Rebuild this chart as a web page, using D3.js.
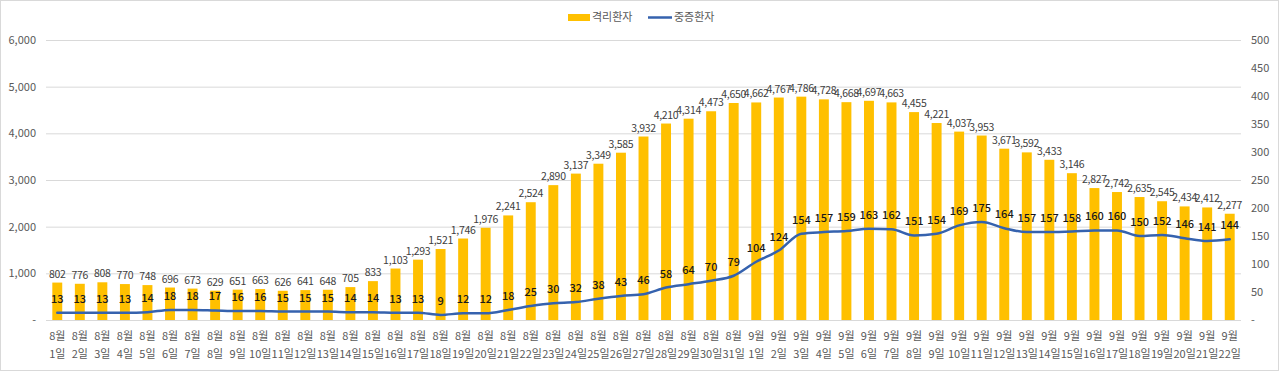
<!DOCTYPE html>
<html><head><meta charset="utf-8">
<script src="https://cdn.jsdelivr.net/npm/d3@7"></script>
<style>
body{margin:0;background:#fff;}
svg text{font-family:"Noto Sans CJK KR","Noto Sans",sans-serif;}
</style></head>
<body><svg id="c" width="1280" height="372"></svg>
<script>
const months = [8,8,8,8,8,8,8,8,8,8,8,8,8,8,8,8,8,8,8,8,8,8,8,8,8,8,8,8,8,8,8,9,9,9,9,9,9,9,9,9,9,9,9,9,9,9,9,9,9,9,9,9,9];
const days = [1,2,3,4,5,6,7,8,9,10,11,12,13,14,15,16,17,18,19,20,21,22,23,24,25,26,27,28,29,30,31,1,2,3,4,5,6,7,8,9,10,11,12,13,14,15,16,17,18,19,20,21,22];
const isolated = [802,776,808,770,748,696,673,629,651,663,626,641,648,705,833,1103,1293,1521,1746,1976,2241,2524,2890,3137,3349,3585,3932,4210,4314,4473,4650,4662,4767,4786,4728,4668,4697,4663,4455,4221,4037,3953,3671,3592,3433,3146,2827,2742,2635,2545,2434,2412,2277];
const severe = [13,13,13,13,14,18,18,17,16,16,15,15,15,14,14,13,13,9,12,12,18,25,30,32,38,43,46,58,64,70,79,104,124,154,157,159,163,162,151,154,169,175,164,157,157,158,160,160,150,152,146,141,144];
const leftTicks = [0,1000,2000,3000,4000,5000,6000];
const rightTicks = [0,50,100,150,200,250,300,350,400,450,500];
const seriesNames = ["격리환자","중증환자"];

const svg = d3.select("#c");
const L = 46, R = 1241, T = 40, B = 320;
const cats = days.map((d,i)=>i);
const x = d3.scaleBand().domain(cats).range([L,R]).paddingInner(0.56).paddingOuter(0.28);
const yL = d3.scaleLinear().domain([0,6000]).range([B,T]);
const yR = d3.scaleLinear().domain([0,500]).range([B,T]);
const fmt = d3.format(",");

svg.append("rect").attr("x",0.5).attr("y",0.5).attr("width",1278).attr("height",370).attr("fill","none").attr("stroke","#d9d9d9");

svg.append("g").selectAll("line").data(leftTicks).join("line")
  .attr("x1",L).attr("x2",R).attr("y1",d=>yL(d)+0.5).attr("y2",d=>yL(d)+0.5)
  .attr("stroke","#d9d9d9").attr("stroke-width",1);

const gl = svg.append("g").attr("transform",`translate(${L-10},0)`)
  .call(d3.axisLeft(yL).tickValues(leftTicks).tickSize(0).tickPadding(0).tickFormat(d=>d===0?"-":fmt(d)));
gl.select(".domain").remove();
gl.selectAll("text").attr("font-size",11).attr("fill","#595959").attr("font-family",'"Noto Sans CJK KR",sans-serif');

const gr = svg.append("g").attr("transform",`translate(${R+10},0)`)
  .call(d3.axisRight(yR).tickValues(rightTicks).tickSize(0).tickPadding(0).tickFormat(d=>d===0?"-":d));
gr.select(".domain").remove();
gr.selectAll("text").attr("font-size",11).attr("fill","#595959").attr("font-family",'"Noto Sans CJK KR",sans-serif');

svg.append("g").selectAll("rect").data(isolated).join("rect")
  .attr("x",(d,i)=>x(i)).attr("width",x.bandwidth())
  .attr("y",d=>yL(d)).attr("height",d=>B-yL(d)).attr("fill","#FFC000");

const line = d3.line().x((d,i)=>x(i)+x.bandwidth()/2).y(d=>yR(d)).curve(d3.curveMonotoneX);
svg.append("path").datum(severe).attr("d",line).attr("fill","none").attr("stroke","#3562AE").attr("stroke-width",2.5).attr("stroke-linecap","round");

svg.append("g").selectAll("text").data(isolated).join("text")
  .attr("x",(d,i)=>x(i)+x.bandwidth()/2).attr("y",d=>yL(d)-5)
  .attr("text-anchor","middle").attr("font-size",10.5).attr("fill","#404040").attr("letter-spacing","-0.3")
  .text(d=>fmt(d));

svg.append("g").selectAll("text").data(severe).join("text")
  .attr("x",(d,i)=>x(i)+x.bandwidth()/2).attr("y",d=>yR(d)-10)
  .attr("text-anchor","middle").attr("font-size",11).attr("font-weight",500).attr("fill","#1a1a1a")
  .text(d=>d);

const xl = svg.append("g").selectAll("g").data(cats).join("g")
  .attr("transform",i=>`translate(${x(i)+x.bandwidth()/2},0)`);
xl.append("text").attr("y",340).attr("text-anchor","middle").attr("font-size",11).attr("fill","#595959").text(i=>months[i]+"월");
xl.append("text").attr("y",358).attr("text-anchor","middle").attr("font-size",11).attr("fill","#595959").text(i=>days[i]+"일");

const lg = svg.append("g");
lg.append("rect").attr("x",568).attr("y",14).attr("width",22).attr("height",7).attr("fill","#FFC000");
lg.append("text").attr("x",592).attr("y",21).attr("font-size",11).attr("fill","#595959").text(seriesNames[0]);
lg.append("line").attr("x1",648).attr("x2",672).attr("y1",17.5).attr("y2",17.5).attr("stroke","#3562AE").attr("stroke-width",2.5);
lg.append("text").attr("x",674).attr("y",21).attr("font-size",11).attr("fill","#595959").text(seriesNames[1]);
</script></body></html>
